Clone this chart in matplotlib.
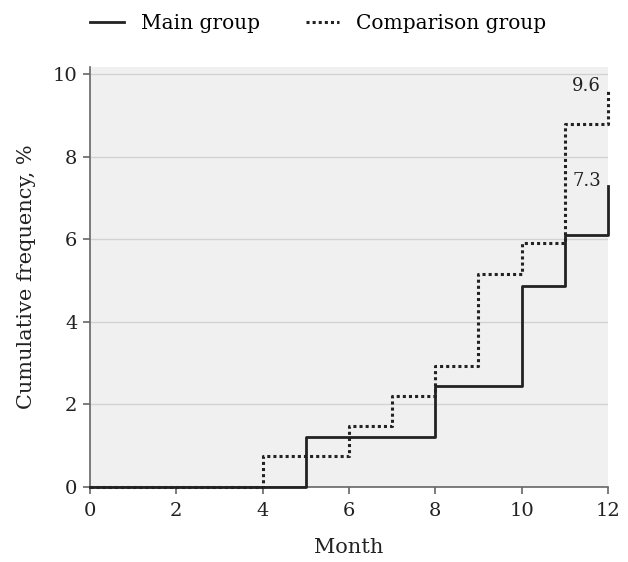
import numpy as np
import matplotlib.pyplot as plt

# cumulative frequency (%) by month
months = [0, 1, 2, 3, 4, 5, 6, 7, 8, 9, 10, 11, 12]
main_group = [0, 0, 0, 0, 0, 1.22, 1.22, 1.22, 2.45, 2.45, 4.87, 6.1, 7.3]
comparison_group = [0, 0, 0, 0, 0.74, 0.74, 1.47, 2.2, 2.94, 5.15, 5.9, 8.8, 9.6]
xticks = [0, 2, 4, 6, 8, 10, 12]
yticks = [0, 2, 4, 6, 8, 10]

plt.rcParams['font.family'] = 'DejaVu Serif'

fig = plt.figure(figsize=(6.28, 5.62), dpi=100)
ax = fig.add_axes([0.1433, 0.1335, 0.8247, 0.7473])
ax.set_facecolor('#f0f0f0')

ax.step(months, comparison_group, where='post', color='#222222', lw=2.2,
        linestyle=(0, (1, 1)), label='Comparison group', clip_on=False, zorder=3)
ax.step(months, main_group, where='post', color='#222222', lw=2.0,
        label='Main group', clip_on=False, zorder=4)

# end labels
for series in (comparison_group, main_group):
    ax.annotate(f'{series[-1]:.1f}', xy=(months[-1], series[-1]),
                xytext=(-5, 0), textcoords='offset points',
                ha='right', va='baseline', fontsize=13, color='#222222')

ax.set_xlim(0, 12)
ax.set_ylim(0, 10.17)
ax.set_xticks(xticks)
ax.set_yticks(yticks)
ax.grid(axis='y', color='#d2d2d2', lw=1)
ax.set_axisbelow(True)

for s in ('top', 'right'):
    ax.spines[s].set_visible(False)
for s in ('left', 'bottom'):
    ax.spines[s].set_color('#666666')
    ax.spines[s].set_linewidth(1.2)
ax.tick_params(axis='both', colors='#666666', length=5, width=1.2,
               labelsize=14, labelcolor='#222222')
ax.tick_params(axis='x', pad=6)
ax.tick_params(axis='y', pad=4)

ax.set_xlabel('Month', fontsize=15, color='#222222', labelpad=13)
ax.set_ylabel('Cumulative frequency, %', fontsize=15, color='#222222', labelpad=12)

h, l = ax.get_legend_handles_labels()
fig.legend(h[::-1], l[::-1], loc='upper center', bbox_to_anchor=(0.507, 1.008),
           ncol=2, frameon=False, fontsize=14.5, handlelength=1.65,
           columnspacing=2.3, handletextpad=0.85)

fig.savefig('out.png', dpi=100)
